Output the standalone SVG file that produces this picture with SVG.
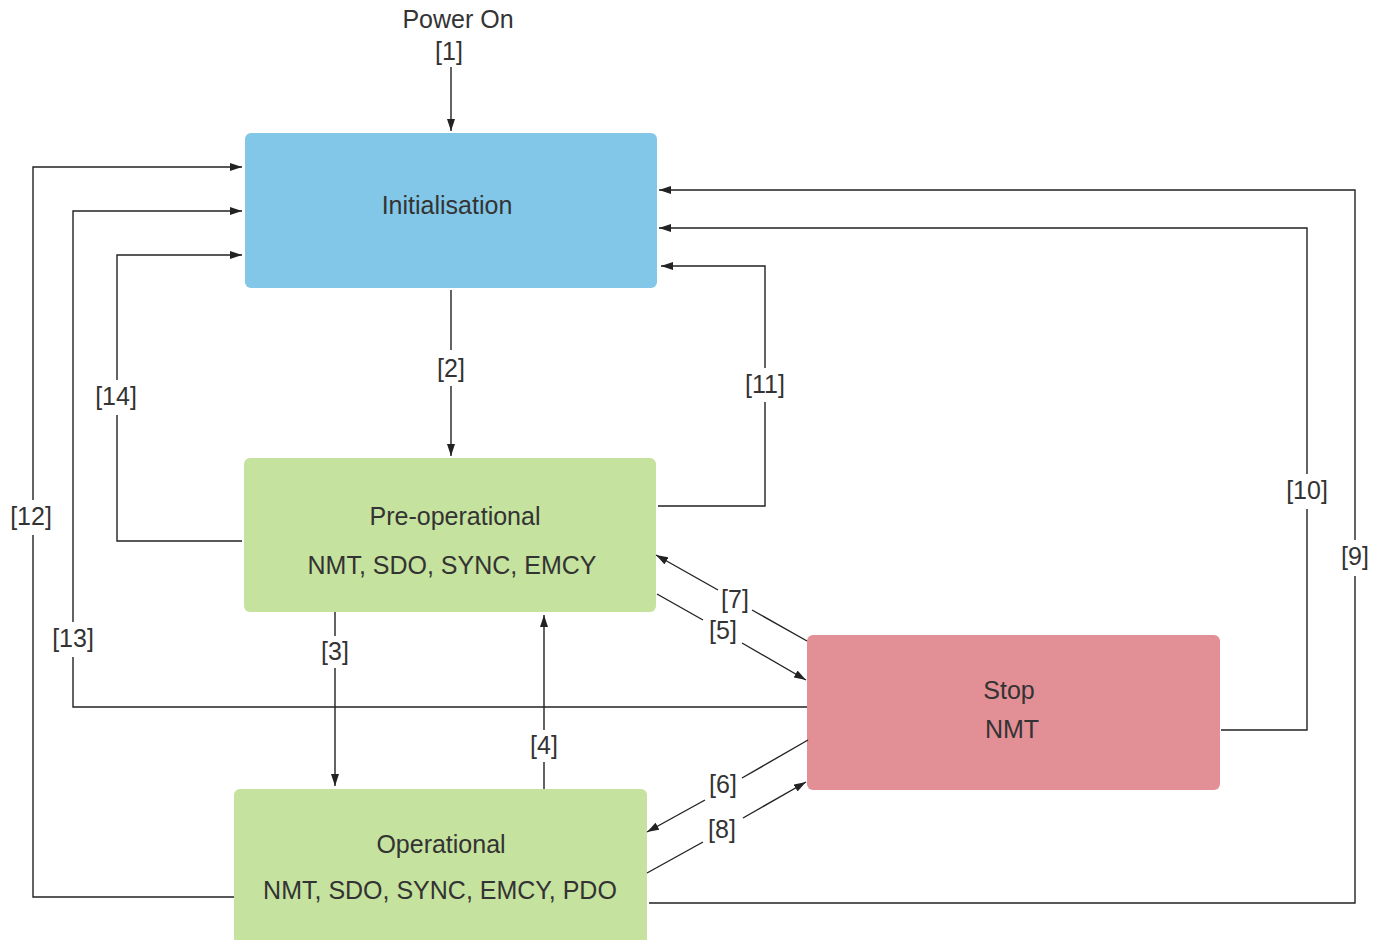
<svg xmlns="http://www.w3.org/2000/svg" width="1381" height="940" viewBox="0 0 1381 940">
<style>
.t{font-family:"Liberation Sans",Arial,sans-serif;font-size:25px;fill:#333;text-anchor:middle}
.c{fill:none;stroke:#222;stroke-width:1.4}
</style>
<defs>
<marker id="ah" viewBox="0 0 12 8" refX="12" refY="4" markerWidth="12" markerHeight="8" markerUnits="userSpaceOnUse" orient="auto"><path d="M0,0 L12,4 L0,8 Z" fill="#222"/></marker>
</defs>
<rect width="1381" height="940" fill="#fff"/>
<g id="init"><rect x="245" y="133" width="412" height="155" rx="6" fill="#82c7e8"/><text class="t" x="447" y="214">Initialisation</text></g>
<g id="preop"><rect x="244" y="458" width="412" height="154" rx="6" fill="#c5e29e"/><text class="t" x="455" y="525">Pre-operational</text><text class="t" x="452" y="574">NMT, SDO, SYNC, EMCY</text></g>
<g id="op"><rect x="234" y="789" width="413" height="160" rx="6" fill="#c5e29e"/><text class="t" x="441" y="853">Operational</text><text class="t" x="440" y="899">NMT, SDO, SYNC, EMCY, PDO</text></g>
<g id="stop"><rect x="807" y="635" width="413" height="155" rx="6" fill="#e28f96"/><text class="t" x="1009" y="699">Stop</text><text class="t" x="1012" y="738">NMT</text></g>
<g id="connectors">
<path class="c" d="M451,67 V131" marker-end="url(#ah)"/>
<path class="c" d="M451,290 V350"/><path class="c" d="M451,386 V456" marker-end="url(#ah)"/>
<path class="c" d="M335,612 V636"/><path class="c" d="M335,668 V786" marker-end="url(#ah)"/>
<path class="c" d="M544,789 V762"/><path class="c" d="M544,730 V615" marker-end="url(#ah)"/>
<path class="c" d="M657,594 L703,620"/><path class="c" d="M742,643 L806,680" marker-end="url(#ah)"/>
<path class="c" d="M807,641 L752,610"/><path class="c" d="M718,590 L656,555" marker-end="url(#ah)"/>
<path class="c" d="M808,740 L742,778"/><path class="c" d="M705,800 L647,832" marker-end="url(#ah)"/>
<path class="c" d="M647,873 L703,842"/><path class="c" d="M743,818 L806,782" marker-end="url(#ah)"/>
<path class="c" d="M649,903 H1355 V576"/><path class="c" d="M1355,540 V190 H659" marker-end="url(#ah)"/>
<path class="c" d="M1221,730 H1307 V509"/><path class="c" d="M1307,474 V228 H659" marker-end="url(#ah)"/>
<path class="c" d="M658,506 H765 V402"/><path class="c" d="M765,368 V266 H661" marker-end="url(#ah)"/>
<path class="c" d="M234,897 H33 V535"/><path class="c" d="M33,500 V167 H242" marker-end="url(#ah)"/>
<path class="c" d="M807,707 H73 V657"/><path class="c" d="M73,622 V211 H242" marker-end="url(#ah)"/>
<path class="c" d="M242,541 H117 V415"/><path class="c" d="M117,380 V255 H242" marker-end="url(#ah)"/>
</g>
<g id="labels">
<text class="t" x="458" y="28">Power On</text>
<text class="t" x="449" y="60">[1]</text>
<text class="t" x="451" y="377">[2]</text>
<text class="t" x="335" y="660">[3]</text>
<text class="t" x="544" y="754">[4]</text>
<text class="t" x="723" y="639">[5]</text>
<text class="t" x="723" y="793">[6]</text>
<text class="t" x="735" y="608">[7]</text>
<text class="t" x="722" y="838">[8]</text>
<text class="t" x="1355" y="565">[9]</text>
<text class="t" x="1307" y="499">[10]</text>
<text class="t" x="765" y="393">[11]</text>
<text class="t" x="31" y="525">[12]</text>
<text class="t" x="73" y="647">[13]</text>
<text class="t" x="116" y="405">[14]</text>
</g>
</svg>
